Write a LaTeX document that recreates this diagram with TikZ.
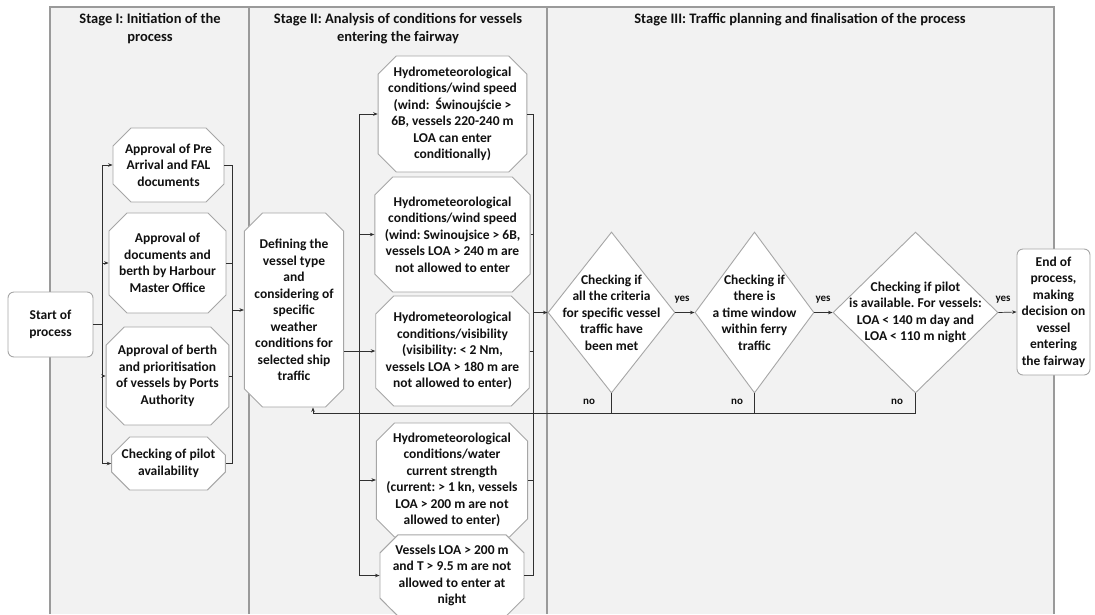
\documentclass[tikz,border=0pt]{standalone}
\usepackage{fontspec}
\setmainfont{Carlito}
\frenchspacing
\usetikzlibrary{shapes.misc,shapes.geometric,arrows.meta}
\definecolor{lanefill}{HTML}{F2F2F2}
\definecolor{laneline}{HTML}{9A9A9A}
\definecolor{boxline}{HTML}{A6A6A6}
\definecolor{conn}{HTML}{303030}
\definecolor{ink}{HTML}{111111}
\begin{document}
\begin{tikzpicture}[x=1pt,y=-1pt,
  txt/.style={font=\fontsize{13.5}{16.5}\selectfont\bfseries, text=ink, align=center},
  hdr/.style={font=\fontsize{14.5}{18}\selectfont\bfseries, text=ink, align=center},
  lbl/.style={font=\fontsize{11}{13}\selectfont\bfseries, text=ink},
  chbox/.style={txt, chamfered rectangle, chamfered rectangle xsep=9pt, chamfered rectangle ysep=9pt, draw=boxline, line width=0.9pt, fill=white, inner sep=1pt},
  rbox/.style={txt, rectangle, rounded corners=6pt, draw=boxline, line width=0.9pt, fill=white, inner sep=1pt},
  dia/.style={diamond, draw=boxline, line width=0.9pt, fill=white, inner sep=0pt},
  wire/.style={draw=conn, line width=0.7pt},
  arr/.style={wire, -{Stealth[length=4.5pt,width=3.5pt]}},
]
\useasboundingbox (0,0) rectangle (1095,614);
% lanes
\fill[lanefill] (50,7) rectangle (1054,614);
\draw[laneline, line width=1.5pt] (50,614) -- (50,7) -- (1054,7) -- (1054,614);
\draw[laneline, line width=1.5pt] (249,7) -- (249,614);
\draw[laneline, line width=1.5pt] (547,7) -- (547,614);
% headers
\node[hdr] (h1) at (150,29) {Stage I: Initiation of the\\process};
\node[hdr] (h2) at (398,29) {Stage II: Analysis of conditions for vessels\\entering the fairway};
\node[hdr] (h3) at (800,20) {Stage III: Traffic planning and finalisation of the process};
% stage I
\node[rbox, minimum width=85pt, minimum height=65pt] (start) at (50.5,324.5) {Start of\\process};
\node[chbox, minimum width=111pt, minimum height=74pt] (b1) at (168.5,165) {Approval of Pre\\Arrival and FAL\\documents};
\node[chbox, minimum width=113pt, minimum height=100pt] (b2) at (167.5,263) {Approval of\\documents and\\berth by Harbour\\Master Office};
\node[chbox, minimum width=113pt, minimum height=98pt] (b3) at (167.5,376) {Approval of berth\\and prioritisation\\of vessels by Ports\\Authority};
\node[chbox, minimum width=111pt, minimum height=53pt] (b4) at (168.5,463.5) {Checking of pilot\\availability};
% stage II
\node[chbox, minimum width=92pt, minimum height=194pt] (def) at (294,310) {Defining the\\vessel type\\and\\considering of\\specific\\weather\\conditions for\\selected ship\\traffic};
\node[chbox, minimum width=147pt, minimum height=116pt] (hA) at (452.5,114) {Hydrometeorological\\conditions/wind speed\\(wind:\ \ Świnoujście >\\6B, vessels 220-240 m\\LOA can enter\\conditionally)};
\node[chbox, minimum width=147pt, minimum height=115pt] (hB) at (452.5,234.5) {Hydrometeorological\\conditions/wind speed\\(wind: Swinoujsice > 6B,\\vessels LOA > 240 m are\\not allowed to enter};
\node[chbox, minimum width=147pt, minimum height=110pt] (hC) at (452.5,351) {Hydrometeorological\\conditions/visibility\\(visibility: < 2 Nm,\\vessels LOA > 180 m are\\not allowed to enter)};
\node[chbox, minimum width=144pt, minimum height=110pt] (hD) at (452,480) {Hydrometeorological\\conditions/water\\current strength\\(current: > 1 kn, vessels\\LOA > 200 m are not\\allowed to enter)};
\node[chbox, minimum width=144pt, minimum height=73pt] (hE) at (452,575.5) {Vessels LOA > 200 m\\and T > 9.5 m are not\\allowed to enter at\\night};
% stage III
\node[dia, minimum width=127pt, minimum height=161pt, label={[txt]center:{Checking if\\all the criteria\\for specific vessel\\traffic have\\been met}}] (d1) at (611.5,312.5) {};
\node[dia, minimum width=119pt, minimum height=161pt, label={[txt]center:{Checking if\\there is\\a time window\\within ferry\\traffic}}] (d2) at (754.5,312.5) {};
\node[dia, minimum width=165pt, minimum height=161pt, label={[txt]center:{Checking if pilot\\is available. For vessels:\\LOA < 140 m day and\\LOA < 110 m night}}] (d3) at (915.5,312.5) {};
\node[rbox, minimum width=73pt, minimum height=126pt] (fin) at (1053.5,312) {End of\\process,\\making\\decision on\\vessel\\entering\\the fairway};
% connectors stage I
\coordinate (j1) at (102,324.5);
\draw[wire] (start.east) -- (j1);
\foreach \n in {b1,b2,b3,b4} \draw[arr] (j1) |- (\n.west);
\coordinate (j2) at (232,310);
\foreach \n in {b1,b2,b3,b4} \draw[wire] (\n.east) -| (j2);
\draw[arr] (j2) -- (def.west);
% connectors stage II
\coordinate (j3) at (359,351);
\draw[wire] (def.east |- j3) -- (j3);
\foreach \n in {hA,hB,hC,hD,hE} \draw[arr] (j3) |- (\n.west);
\coordinate (j4) at (533,312.5);
\foreach \n in {hA,hB,hC,hD,hE} \draw[wire] (\n.east) -| (j4);
\draw[arr] (j4) -- (d1.west);
% stage III
\draw[arr] (d1.east) -- (d2.west);
\draw[arr] (d2.east) -- (d3.west);
\draw[arr] (d3.east) -- (fin.west);
\coordinate (fb) at (313,413);
\draw[arr] (d3.south) -- (d3.south |- fb) -- (fb) -- (fb |- def.south);
\draw[wire] (d1.south) -- (d1.south |- fb);
\draw[wire] (d2.south) -- (d2.south |- fb);
% labels
\node[lbl] (y1) at (682,300) {yes};
\node[lbl] (y2) at (823,300) {yes};
\node[lbl] (y3) at (1003,300) {yes};
\node[lbl] (n1) at (589,402) {no};
\node[lbl] (n2) at (737,402) {no};
\node[lbl] (n3) at (897,402) {no};
\end{tikzpicture}
\end{document}
